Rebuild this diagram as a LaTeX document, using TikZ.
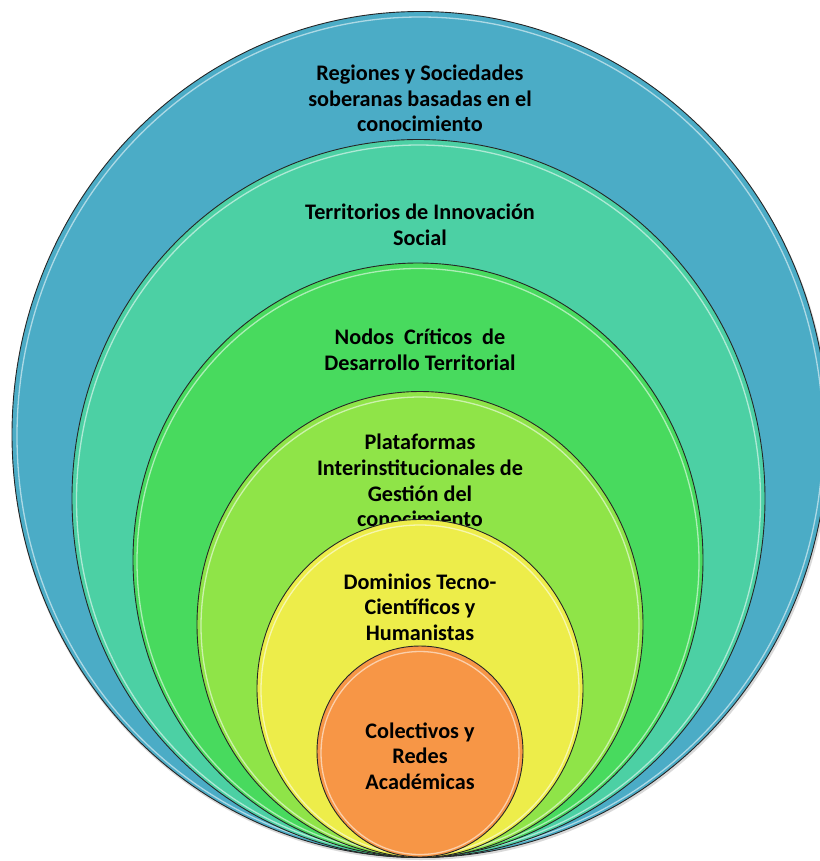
\documentclass[tikz,border=0pt]{standalone}
\usepackage{fontspec}
\setmainfont{Carlito}
\definecolor{cBlue}{RGB}{75,172,198}
\definecolor{cTeal}{RGB}{76,208,164}
\definecolor{cGreen}{RGB}{72,218,94}
\definecolor{cLime}{RGB}{143,228,72}
\definecolor{cYellow}{RGB}{237,237,74}
\definecolor{cOrange}{RGB}{247,150,70}
\tikzset{
  ring/.style={draw=black!85, line width=0.9bp},
  shine/.style={draw=white, line width=1.3bp, opacity=0.55},
  lbl/.style={align=center, inner sep=0pt, font=\bfseries\fontsize{22.3}{25.8}\selectfont}
}
\begin{document}
\begin{tikzpicture}[x=1bp, y=-1bp]
\useasboundingbox (0,0) rectangle (820,861);
\clip (0,0) rectangle (820,861);
% outer
\fill[black, opacity=0.15] (421,437) ellipse [x radius=409, y radius=423];
\draw[ring, fill=cBlue] (420,434.5) ellipse [x radius=408, y radius=423];
\draw[shine] (420,436) ellipse [x radius=403, y radius=419];
\node[lbl] (t1) at (420,98.5) {Regiones y Sociedades\\soberanas basadas en el\\conocimiento};
% teal
\draw[ring, fill=cTeal] (418.5,498.5) ellipse [x radius=346.5, y radius=359];
\draw[shine] (418.5,500) ellipse [x radius=342, y radius=355];
\node[lbl] (t2) at (420,224.5) {Territorios de Innovación\\Social};
% green
\draw[ring, fill=cGreen] (418,560) ellipse [x radius=285, y radius=297];
\draw[shine] (418,561.5) ellipse [x radius=281, y radius=293];
\node[lbl] (t3) at (420,349.5) {Nodos\ \ Críticos\ \ de\\Desarrollo Territorial};
% lime
\draw[ring, fill=cLime] (420,624.5) ellipse [x radius=223, y radius=233];
\draw[shine] (420,626) ellipse [x radius=219, y radius=229];
\node[lbl] (t4) at (420,480.5) {Plataformas\\Interinstitucionales de\\Gestión del\\conocimiento};
% yellow
\draw[ring, fill=cYellow] (420,688.5) ellipse [x radius=163, y radius=169];
\draw[shine] (420,690) ellipse [x radius=159, y radius=165];
\node[lbl] (t5) at (420,607) {Dominios Tecno-\\Científicos y\\Humanistas};
% orange
\draw[ring, fill=cOrange] (420,751.5) ellipse [x radius=103, y radius=105.5];
\draw[shine] (420,753) ellipse [x radius=99, y radius=101.5];
\node[lbl] (t6) at (420,756) {Colectivos y\\Redes\\Académicas};
\end{tikzpicture}
\end{document}
